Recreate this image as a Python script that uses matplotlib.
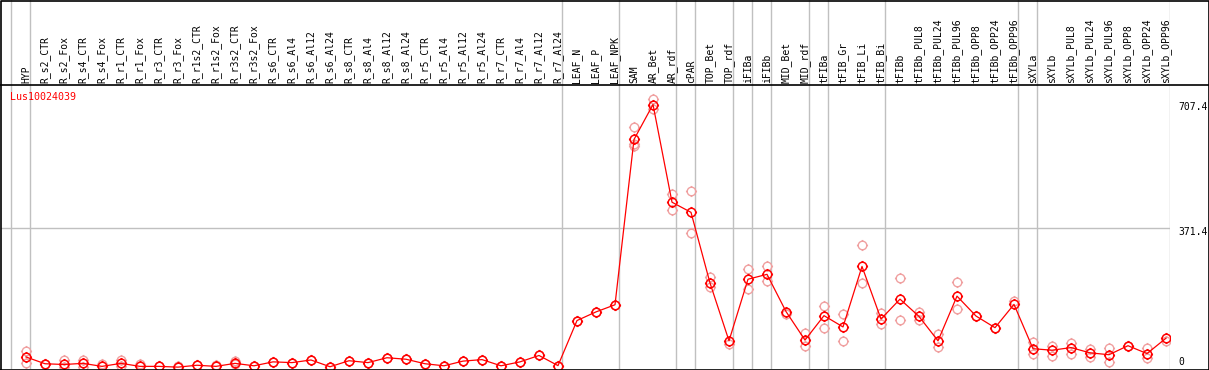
import numpy as np
import matplotlib
matplotlib.use("Agg")
import matplotlib.pyplot as plt
from matplotlib.path import Path
from matplotlib.lines import Line2D

# sample names (columns)
samples = ["HYP", "R_s2_CTR", "R_s2_Fox", "R_s4_CTR", "R_s4_Fox", "R_r1_CTR", "R_r1_Fox",
           "R_r3_CTR", "R_r3_Fox", "R_r1s2_CTR", "R_r1s2_Fox", "R_r3s2_CTR", "R_r3s2_Fox",
           "R_s6_CTR", "R_s6_Al4", "R_s6_Al12", "R_s6_Al24", "R_s8_CTR", "R_s8_Al4",
           "R_s8_Al12", "R_s8_Al24", "R_r5_CTR", "R_r5_Al4", "R_r5_Al12", "R_r5_Al24",
           "R_r7_CTR", "R_r7_Al4", "R_r7_Al12", "R_r7_Al24", "LEAF_N", "LEAF_P", "LEAF_NPK",
           "SAM", "AR_Bet", "AR_rdf", "cPAR", "TOP_Bet", "TOP_rdf", "iFIBa", "iFIBb",
           "MID_Bet", "MID_rdf", "tFIBa", "tFIB_Gr", "tFIB_Li", "tFIB_Bi", "tFIBb",
           "tFIBb_PUL8", "tFIBb_PUL24", "tFIBb_PUL96", "tFIBb_OPP8", "tFIBb_OPP24",
           "tFIBb_OPP96", "sXYLa", "sXYLb", "sXYLb_PUL8", "sXYLb_PUL24", "sXYLb_PUL96",
           "sXYLb_OPP8", "sXYLb_OPP24", "sXYLb_OPP96"]

# mean expression per sample
means = [28, 10, 8, 11, 3, 11, 3, 3, 1, 6, 3, 11, 4.5, 15, 13, 20, 2, 18, 13, 26,
         22, 10, 4.5, 17, 21, 4.5, 15, 32, 5,
         125, 148, 167, 607, 700, 440, 413, 225, 71, 235, 248, 149, 73, 138, 108,
         269, 129, 182, 136, 71, 190, 137, 106, 168, 50, 46, 53, 39, 34, 58, 37, 78]

# replicate values per sample
reps = [[43, 12], [10], [20, 2], [20, 2], [8], [20, 4], [8], [3], [5], [6], [6],
        [17, 8], [4.5], [15], [13], [20], [2], [18], [13], [26], [22], [10], [4.5],
        [17], [21], [4.5], [15], [32], [5],
        [125], [148], [167], [641, 589, 596], [715, 687], [462, 418], [469, 357],
        [240, 213], [63], [262, 208], [270, 229], [142], [92, 57], [164, 105],
        [142, 71], [325, 225], [145, 117], [238, 127], [149, 126], [88, 54],
        [227, 156], [137], [106], [178], [68, 37], [58, 30], [65, 37], [50, 27],
        [51, 15], [58], [52, 25], [70]]

# last sample index of each group (vertical separators)
group_ends = [-1, 0, 28, 31, 34, 35, 37, 38, 39, 41, 42, 45, 52, 53, 60]

gene = "Lus10024039"
ref_lines = [707.4, 371.4, 0]

W, H = 1209, 370
fig = plt.figure(figsize=(W / 100, H / 100), dpi=100)

def box(x0, y0, x1, y1):
    return [x0 / W, 1 - y1 / H, (x1 - x0) / W, (y1 - y0) / H]

xl = (-25 / 19, 1144 / 19)
ax = fig.add_axes(box(1, 85, 1170, 369))
lab = fig.add_axes(box(1, 0, 1170, 85))
for a in (ax, lab):
    a.set_xlim(*xl)
    a.axis("off")
ax.set_ylim(-4, 752)
lab.set_ylim(0, 1)

gray = "#c0c0c0"
for g in group_ends:
    for a in (ax, lab):
        a.axvline(g + 4 / 19, color=gray, lw=1)
ax.axhline(ref_lines[1], color=gray, lw=1)

# marker: circle with four small ticks
circ = Path.circle((0, 0), 1.0)
tk = Path([(0, 1), (0, 1.3), (0, -1), (0, -1.3), (1, 0), (1.3, 0), (-1, 0), (-1.3, 0)],
          [Path.MOVETO, Path.LINETO] * 4)
mk = Path.make_compound_path(circ, tk)

x = np.arange(len(samples))
for i, r in enumerate(reps):
    ax.plot([i] * len(r), r, ls="none", marker=mk, ms=8, mfc="none",
            mec="#f0a0a0", mew=1)
ax.plot(x, means, color="red", lw=0.9, marker=mk, ms=8, mfc="none",
        mec="red", mew=1.1)

for i, s in enumerate(samples):
    lab.text(i, 2 / 85, s, rotation=90, ha="center", va="bottom",
             family="DejaVu Sans Mono", fontsize=7)

fig.text(10 / W, 1 - 97 / H, gene, color="red", family="DejaVu Sans Mono",
         fontsize=7.2, va="center", ha="left")

# right-side value labels
fig.text(1178 / W, 1 - 107 / H, "%.1f" % ref_lines[0], family="DejaVu Sans Mono",
         fontsize=7, va="center")
fig.text(1178 / W, 1 - 232 / H, "%.1f" % ref_lines[1], family="DejaVu Sans Mono",
         fontsize=7, va="center")
fig.text(1178 / W, 1 - 362 / H, "%g" % ref_lines[2], family="DejaVu Sans Mono",
         fontsize=7, va="center")

# frame
fig.add_artist(Line2D([0.5 / W, 0.5 / W, 1 - 0.5 / W, 1 - 0.5 / W, 0.5 / W],
                      [0.5 / H, 1 - 0.5 / H, 1 - 0.5 / H, 0.5 / H, 0.5 / H],
                      color="black", lw=1.2, transform=fig.transFigure))
fig.add_artist(Line2D([0, 1], [1 - 85 / H] * 2, color="black", lw=1.2,
                      transform=fig.transFigure))

fig.savefig("out.png", dpi=100)
